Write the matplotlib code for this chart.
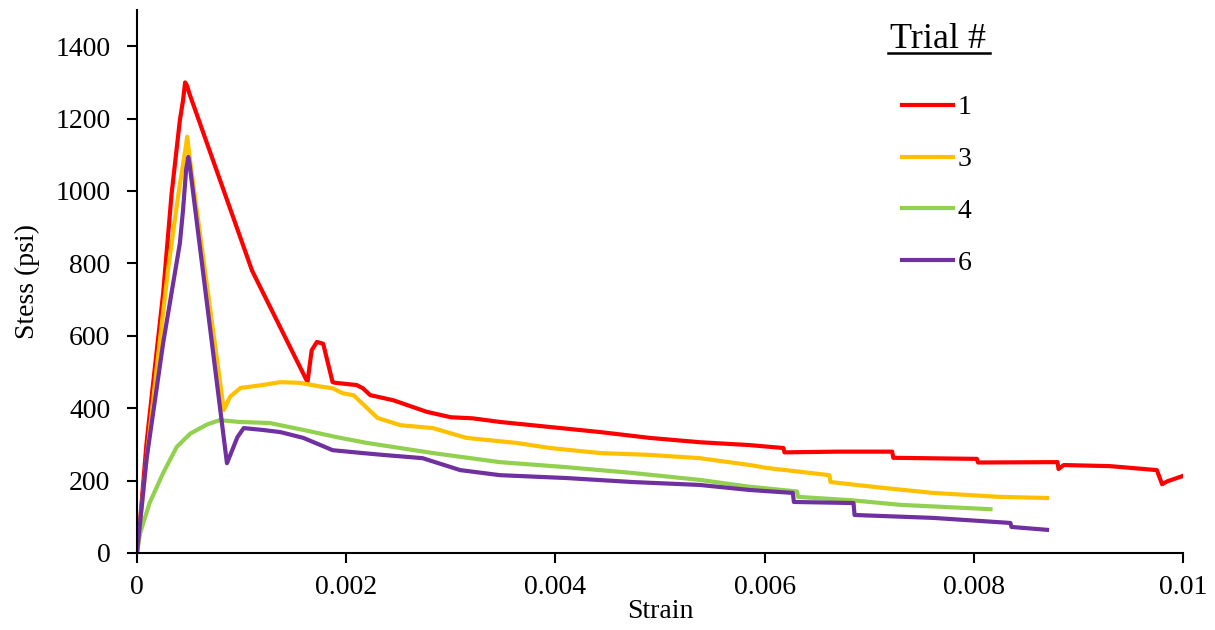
import matplotlib
matplotlib.use("Agg")
import matplotlib.pyplot as plt
from matplotlib.lines import Line2D

plt.rcParams['font.family'] = ['Liberation Serif', 'DejaVu Serif']

# ---- data (strain, stress psi) ----
t1_strain = [0, 0.00003, 0.00009, 0.00017, 0.00025, 0.00033, 0.00041, 0.00044, 0.00046, 0.00048, 0.0005,
             0.0011, 0.00163, 0.00167, 0.00172, 0.00178, 0.00187, 0.0019, 0.0021, 0.00216, 0.00223,
             0.00245, 0.00277, 0.003, 0.00321, 0.00347, 0.00395, 0.00443, 0.0049, 0.00538, 0.00586,
             0.00618, 0.00619, 0.0067, 0.00722, 0.00723, 0.00803, 0.00804, 0.0088, 0.00881, 0.00886,
             0.0093, 0.00975, 0.0098, 0.00985, 0.00997, 0.01]
t1_stress = [40, 90, 300, 510, 717, 990, 1196, 1250, 1300, 1290, 1270,
             780, 472, 560, 583, 578, 472, 470, 464, 455, 436,
             422, 390, 375, 372, 362, 348, 334, 318, 306, 298,
             290, 278, 280, 280, 263, 260, 250, 251, 232, 243,
             240, 229, 190, 198, 210, 213]

t3_strain = [0, 0.0001, 0.0002, 0.0003, 0.0004, 0.00046, 0.00048, 0.0005, 0.00083, 0.00089, 0.00099,
             0.0012, 0.00137, 0.00156, 0.00175, 0.00187, 0.00197, 0.00207, 0.0023, 0.00252, 0.00283,
             0.00315, 0.00363, 0.00395, 0.00443, 0.0049, 0.00538, 0.00586, 0.00602, 0.00662, 0.00663,
             0.00713, 0.00761, 0.00825, 0.0087]
t3_stress = [0, 280, 540, 790, 1000, 1110, 1150, 1100, 395, 432, 456,
             464, 472, 470, 460, 455, 441, 436, 373, 353, 345,
             318, 304, 290, 276, 271, 262, 243, 235, 215, 196,
             180, 166, 155, 152]

t4_strain = [0, 0.00003, 0.00012, 0.00025, 0.00038, 0.00051, 0.00067, 0.00079, 0.00098, 0.00127,
             0.00159, 0.00191, 0.0022, 0.00283, 0.00347, 0.00411, 0.00474, 0.00538, 0.00583,
             0.00631, 0.00632, 0.00682, 0.0073, 0.00816]
t4_stress = [0, 55, 138, 221, 293, 330, 355, 367, 362, 359,
             340, 320, 304, 276, 251, 237, 221, 202, 184,
             170, 155, 146, 133, 121]

t6_strain = [0, 0.00009, 0.00025, 0.00041, 0.00044, 0.00047, 0.00049, 0.0005, 0.00086, 0.00096,
             0.00102, 0.0012, 0.00137, 0.00159, 0.00178, 0.00187, 0.00216, 0.00235, 0.00273, 0.00309,
             0.00347, 0.00411, 0.00474, 0.00538, 0.00586, 0.00627, 0.00628, 0.00685, 0.00686, 0.00761,
             0.00835, 0.00836, 0.0087]
t6_stress = [0, 257, 580, 856, 947, 1060, 1094, 1080, 248, 320,
             345, 340, 334, 318, 295, 284, 276, 271, 262, 229,
             215, 207, 196, 188, 174, 166, 141, 138, 105, 97,
             83, 72, 64]

labels = ['1', '3', '4', '6']
colors = ['#FF0000', '#FFC000', '#92D050', '#7030A0']
series = [(t1_strain, t1_stress), (t3_strain, t3_stress), (t4_strain, t4_stress), (t6_strain, t6_stress)]

xticks = [0, 0.002, 0.004, 0.006, 0.008, 0.01]
xticklabels = ['0', '0.002', '0.004', '0.006', '0.008', '0.01']
yticks = [0, 200, 400, 600, 800, 1000, 1200, 1400]

fig = plt.figure(figsize=(12.15, 6.3), dpi=100)
ax = fig.add_axes([137/1215, 1 - 553/630, (1183-137)/1215, (553-10)/630])

for (xs, ys), c, lab in zip(series, colors, labels):
    ax.plot(xs, ys, color=c, lw=3.0, label=lab, solid_joinstyle='round')

ax.set_xlim(0, 0.01)
ax.set_ylim(0, 1500)
ax.set_xticks(xticks)
ax.set_xticklabels(xticklabels)
ax.set_yticks(yticks)
ax.tick_params(axis='both', labelsize=20, direction='out', length=7, width=1.5, colors='black')
ax.tick_params(axis='x', pad=9)
ax.tick_params(axis='y', pad=12)
for s in ['top', 'right']:
    ax.spines[s].set_visible(False)
for s in ['left', 'bottom']:
    ax.spines[s].set_linewidth(1.5)

ax.set_xlabel('Strain', fontsize=20, labelpad=-1)
ax.set_ylabel('Stess (psi)', fontsize=20, labelpad=11)

handles = [Line2D([0], [0], color=c, lw=3.0) for c in colors]
fig.legend(handles, labels, loc='upper left', bbox_to_anchor=(902/1215, 1 - 95/630),
           frameon=False, fontsize=20, handlelength=1.85, handletextpad=0.15,
           labelspacing=0.95, borderpad=0, borderaxespad=0)

fig.text(938/1215, 1 - 39/630, 'Trial #', fontsize=26, ha='center', va='center')
fig.add_artist(Line2D([888/1215, 990/1215], [1 - 53/630, 1 - 53/630], color='black', lw=1.8))

fig.savefig('out.png', dpi=100)
